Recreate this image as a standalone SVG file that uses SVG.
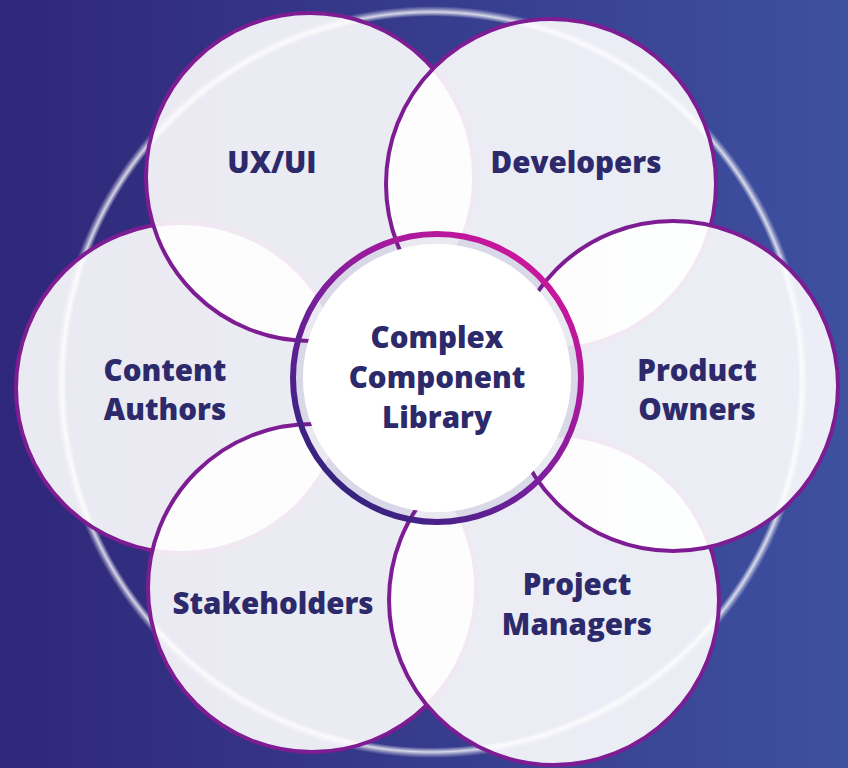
<svg xmlns="http://www.w3.org/2000/svg" width="848" height="768" viewBox="0 0 848 768">
  <defs>
    <linearGradient id="bg" x1="0" y1="0" x2="1" y2="0">
      <stop offset="0" stop-color="#2f2779"/>
      <stop offset="1" stop-color="#3e50a0"/>
    </linearGradient>
    <radialGradient id="halo" gradientUnits="userSpaceOnUse" cx="432" cy="382" r="376">
      <stop offset="0.972" stop-color="#ffffff" stop-opacity="0"/>
      <stop offset="0.984" stop-color="#ffffff" stop-opacity="0.8"/>
      <stop offset="0.993" stop-color="#ffffff" stop-opacity="0.3"/>
      <stop offset="1" stop-color="#ffffff" stop-opacity="0"/>
    </radialGradient>
    <linearGradient id="hubRing" x1="0.15" y1="0.9" x2="0.85" y2="0.1">
      <stop offset="0" stop-color="#33237e"/>
      <stop offset="0.45" stop-color="#7a1f9e"/>
      <stop offset="1" stop-color="#cc169c"/>
    </linearGradient>
  </defs>
  <style>
    .petal { fill: #ffffff; fill-opacity: 0.9; stroke: #7e1d93; stroke-width: 4; }
    .label { font-family: "Open Sans", "Liberation Sans", sans-serif; font-weight: 800; font-size: 29.5px; fill: #2d2a6c; text-anchor: middle; }
  </style>

  <!-- backdrop -->
  <rect width="848" height="768" fill="url(#bg)"/>
  <circle cx="432" cy="382" r="376" fill="url(#halo)"/>

  <!-- petals, bottom layer first -->
  <g id="content-authors">
    <circle class="petal" cx="181" cy="388" r="165"/>
    <text class="label" x="165" y="381">Content</text>
    <text class="label" x="165" y="420">Authors</text>
  </g>
  <g id="stakeholders">
    <circle class="petal" cx="312" cy="588" r="164"/>
    <text class="label" x="273" y="614">Stakeholders</text>
  </g>
  <g id="ux-ui">
    <circle class="petal" cx="310" cy="177" r="164"/>
    <text class="label" x="272" y="173">UX/UI</text>
  </g>
  <g id="developers">
    <circle class="petal" cx="551" cy="184" r="165"/>
    <text class="label" x="576" y="173">Developers</text>
  </g>
  <g id="project-managers">
    <circle class="petal" cx="554" cy="600" r="165"/>
    <text class="label" x="577" y="595">Project</text>
    <text class="label" x="577" y="635">Managers</text>
  </g>
  <g id="product-owners">
    <circle class="petal" cx="673" cy="386" r="165"/>
    <text class="label" x="697" y="381">Product</text>
    <text class="label" x="697" y="420">Owners</text>
  </g>

  <!-- hub -->
  <g id="component-library">
    <circle cx="437" cy="378" r="139" fill="none" stroke="#2a1f6a" stroke-opacity="0.09" stroke-width="10"/>
    <circle cx="437" cy="378" r="134" fill="#ffffff"/>
    <circle cx="437" cy="378" r="144" fill="none" stroke="url(#hubRing)" stroke-width="6"/>
    <text class="label" x="437" y="348">Complex</text>
    <text class="label" x="437" y="388">Component</text>
    <text class="label" x="437" y="428">Library</text>
  </g>
</svg>
